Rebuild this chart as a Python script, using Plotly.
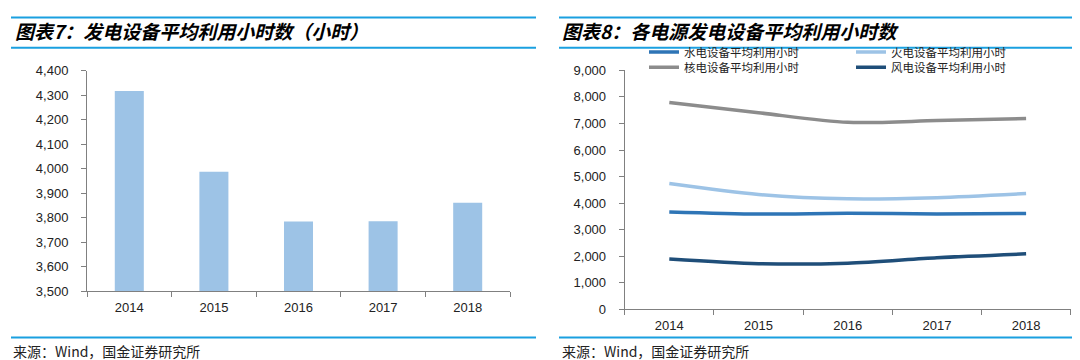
import plotly.graph_objects as go

years = ["2014", "2015", "2016", "2017", "2018"]
total_hours = [4318, 3988, 3785, 3786, 3862]

hydro = [3669, 3590, 3619, 3597, 3613]
thermal = [4739, 4329, 4165, 4209, 4361]
nuclear = [7787, 7403, 7042, 7108, 7184]
wind = [1900, 1724, 1742, 1948, 2095]

series_names = ["水电设备平均利用小时", "火电设备平均利用小时", "核电设备平均利用小时", "风电设备平均利用小时"]
series_values = [hydro, thermal, nuclear, wind]
series_colors = ["#2E75B6", "#9DC3E6", "#8C8C8C", "#1F4E79"]

left_yticks = list(range(3500, 4401, 100))
right_yticks = list(range(0, 9001, 1000))

W, H = 1080, 360
fig = go.Figure()

fig.add_trace(go.Bar(x=years, y=total_hours, marker=dict(color="#9DC3E6", line=dict(width=0)),
                     xaxis="x", yaxis="y", showlegend=False))

legend_ids = ["legend", "legend2", "legend3", "legend4"]
for name, vals, col, lg in zip(series_names, series_values, series_colors, legend_ids):
    fig.add_trace(go.Scatter(x=years, y=vals, mode="lines", name=name, legend=lg,
                             line=dict(color=col, width=3.5, shape="spline", smoothing=0.8),
                             xaxis="x2", yaxis="y2"))

tickfont = dict(family="Liberation Sans, Arial, sans-serif", size=13, color="#222222")
axcol = "#808080"

def px(x):
    return x / W

def py(y):
    return 1 - y / H

legfont = dict(family="Noto Sans CJK SC", size=11.5, color="#222222")

def leg(x, y):
    return dict(orientation="v", x=px(x), y=py(y), xanchor="left", yanchor="top",
                bgcolor="rgba(0,0,0,0)", font=legfont, itemwidth=30, borderwidth=0)

fig.update_layout(
    width=W, height=H,
    margin=dict(l=0, r=0, t=0, b=0),
    paper_bgcolor="white", plot_bgcolor="white",
    bargap=0.657,
    xaxis=dict(domain=[px(79), px(502)], showline=True, linecolor=axcol, linewidth=1,
               ticks="outside", tickson="boundaries", ticklen=5, tickcolor=axcol,
               ticklabelstandoff=4,
               tickfont=tickfont, showgrid=False, zeroline=False, fixedrange=True),
    yaxis=dict(domain=[py(288.3), py(58.3)], range=[3500, 4400], tickvals=left_yticks,
               tickformat=",", showline=True, linecolor=axcol, linewidth=1,
               ticks="outside", ticklen=5, tickcolor=axcol, tickfont=tickfont,
               ticklabelstandoff=10,
               showgrid=False, zeroline=False, anchor="x"),
    xaxis2=dict(domain=[px(616.7), px(1062.7)], anchor="y2", range=[-0.5, 4.5],
                showline=True, linecolor=axcol,
                linewidth=1, ticks="outside", tickson="boundaries", ticklen=5, tickcolor=axcol,
                ticklabelstandoff=4,
                tickfont=tickfont, showgrid=False, zeroline=False),
    yaxis2=dict(domain=[py(307.3), py(57.7)], range=[0, 9000], tickvals=right_yticks,
                tickformat=",", anchor="x2", showline=True, linecolor=axcol, linewidth=1,
                ticks="outside", ticklen=5, tickcolor=axcol, tickfont=tickfont,
                ticklabelstandoff=10,
                showgrid=False, zeroline=False),
    legend=leg(636, 23.5),
    legend2=leg(843, 23.5),
    legend3=leg(636, 39.5),
    legend4=leg(843, 39.5),
)

title_font = dict(family="Noto Sans CJK SC", size=19, color="black", weight="bold", style="italic")
src_font = dict(family="Noto Sans CJK SC", size=14, color="#222222")
rule = "#1AA0E0"

annotations = [
    dict(text="图表7：发电设备平均利用小时数（小时）", x=px(5), y=py(16.5), xanchor="left", yanchor="middle",
         showarrow=False, xref="paper", yref="paper", font=title_font),
    dict(text="图表8：各电源发电设备平均利用小时数", x=px(552), y=py(16.5), xanchor="left", yanchor="middle",
         showarrow=False, xref="paper", yref="paper", font=title_font),
    dict(text="来源：Wind，国金证券研究所", x=px(3), y=py(351), xanchor="left", yanchor="middle",
         showarrow=False, xref="paper", yref="paper", font=src_font),
    dict(text="来源：Wind，国金证券研究所", x=px(552), y=py(351), xanchor="left", yanchor="middle",
         showarrow=False, xref="paper", yref="paper", font=src_font),
]
fig.update_layout(annotations=annotations)

shapes = []
for (x0, x1) in [(3, 528), (551, 1078)]:
    for yy in [2.7, 34.3, 336.5]:
        shapes.append(dict(type="line", xref="paper", yref="paper", x0=px(x0), x1=px(x1),
                           y0=py(yy), y1=py(yy), line=dict(color=rule, width=2)))
fig.update_layout(shapes=shapes)

fig.write_html("out.html")
